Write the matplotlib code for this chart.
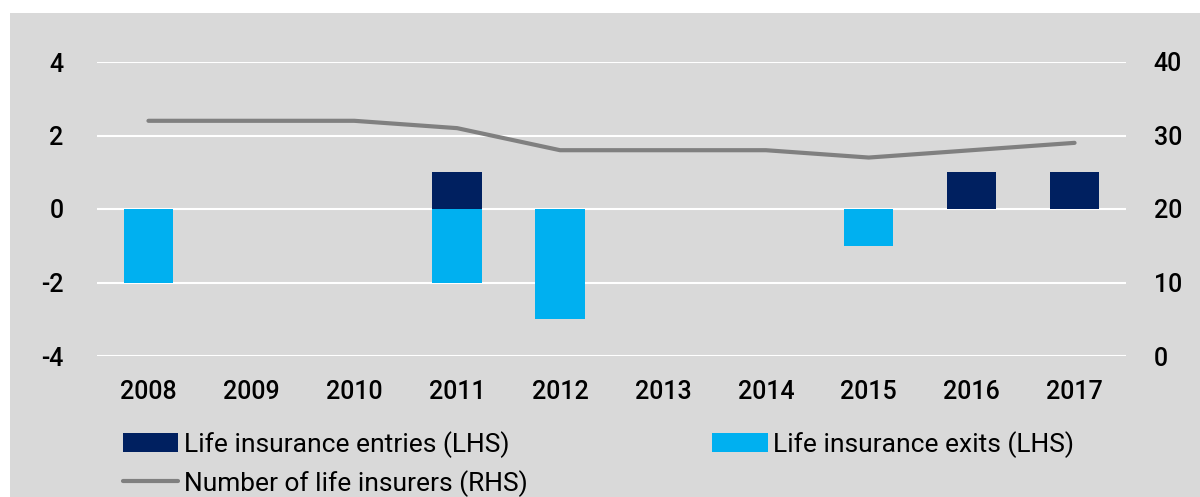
import matplotlib.pyplot as plt
from matplotlib.patches import Rectangle
import numpy as np

years = ['2008', '2009', '2010', '2011', '2012', '2013', '2014', '2015', '2016', '2017']
entries = [0, 0, 0, 1, 0, 0, 0, 0, 1, 1]
exits = [-2, 0, 0, -2, -3, 0, 0, -1, 0, 0]
insurers = [32, 32, 32, 31, 28, 28, 28, 27, 28, 29]

plt.rcParams['font.family'] = ['Roboto', 'DejaVu Sans']

fig = plt.figure(figsize=(12, 4.97), dpi=100)
fig.patch.set_facecolor('white')
# fond gris du cadre
fig.patches.append(Rectangle((10 / 1200, 0), 1, (497 - 13) / 497,
                             transform=fig.transFigure, facecolor='#d9d9d9',
                             edgecolor='none', zorder=-5))

ax = fig.add_axes([97 / 1200, 1 - 356 / 497, (1126 - 97) / 1200, (356 - 62) / 497])
ax.set_facecolor('none')
x = np.arange(len(years))

b1 = ax.bar(x, entries, width=0.48, color='#002060', zorder=3)
b2 = ax.bar(x, exits, width=0.48, color='#00b0f0', zorder=3)

ax.set_xlim(-0.5, len(years) - 0.5)
ax.set_ylim(-4, 4)
ax.set_yticks([-4, -2, 0, 2, 4])
ax.set_yticklabels(['-4', '-2', '0', '2', '4'])
ax.set_xticks(x)
ax.set_xticklabels(years)
ax.yaxis.grid(True, color='white', linewidth=1.5, zorder=1)
ax.set_axisbelow(True)
for s in ax.spines.values():
    s.set_visible(False)
ax.tick_params(axis='both', length=0, labelsize=18, colors='black')
ax.tick_params(axis='x', pad=17)
ax.tick_params(axis='y', pad=24)

ax2 = ax.twinx()
ln, = ax2.plot(x, insurers, color='#808080', linewidth=3, solid_capstyle='round', zorder=4)
ax2.set_ylim(0, 40)
ax2.set_yticks([0, 10, 20, 30, 40])
for s in ax2.spines.values():
    s.set_visible(False)
ax2.tick_params(axis='y', length=0, labelsize=18, pad=20)

for lab in ax.get_xticklabels() + ax.get_yticklabels() + ax2.get_yticklabels():
    lab.set_fontweight('medium')

fig.legend([b1, ln, b2],
           ['Life insurance entries (LHS)', 'Number of life insurers (RHS)', 'Life insurance exits (LHS)'],
           ncol=2, frameon=False, fontsize=19, loc='upper left',
           bbox_to_anchor=(123 / 1200, 1 - 431 / 497),
           handlelength=2.1, handletextpad=0.2, labelspacing=0.45,
           columnspacing=7, borderaxespad=0, borderpad=0)

plt.savefig('out.png', dpi=100)
